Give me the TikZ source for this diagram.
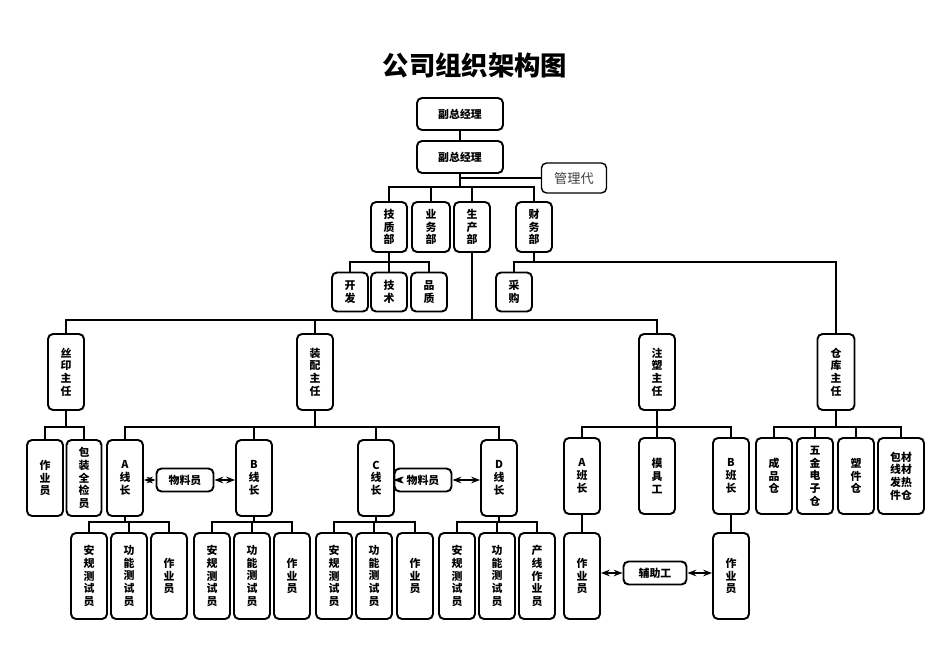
\documentclass[tikz,border=0pt]{standalone}
\usepackage{fontspec}
\newfontfamily\cjk{Noto Sans CJK SC}
\usetikzlibrary{arrows.meta, positioning, calc}

\tikzset{
  box/.style={draw, line width=1.1pt, rounded corners=0.1cm, align=center,
    inner sep=0pt, font=\cjk\bfseries\fontsize{6.2}{7.2}\selectfont},
  link/.style={line width=1.1pt},
  duo/.style={line width=1.1pt, {Stealth[length=5pt]}-{Stealth[length=5pt]}}
}
% box: name, centre x, centre y, width, height, text
\newcommand{\bx}[6]{\node[box, minimum width=#4*0.02cm, minimum height=#5*0.02cm] (#1) at (#2,#3) {#6};}
% branch: parent, bar height, list of children
\newcommand{\branch}[3]{%
  \draw[link] (#1.south) -- (#1.south |- 0,#2);
  \foreach \c in {#3} {\draw[link] (#1.south |- 0,#2) -| (\c.north);}
}

\begin{document}
\begin{tikzpicture}[x=0.02cm, y=-0.02cm]
  \useasboundingbox (0,0) rectangle (950,672);

  \node[font=\cjk\bfseries\fontsize{15}{17}\selectfont] (title) at (475,65) {公司组织架构图};

  % --- top ---
  \bx{vp}{460}{114}{86}{32}{副总经理}
  \bx{gm}{460}{157}{86}{32}{副总经理}
  \node[box, font=\cjk\fontsize{7.5}{9}\selectfont, text=black!75, line width=0.8pt,
    minimum width=1.3cm, minimum height=0.6cm] (agent) at (574,178) {管理代};
  \draw[link] (vp) -- (gm);
  \draw[link] (gm.south |- 0,178) -- (agent.west);

  % --- departments ---
  \bx{jz}{389}{227}{36}{50}{技\\质\\部}
  \bx{yw}{431}{227}{38}{50}{业\\务\\部}
  \bx{sc}{472}{227}{36}{50}{生\\产\\部}
  \bx{cw}{534}{227}{36}{50}{财\\务\\部}
  \branch{gm}{187}{jz,yw,sc,cw}

  \bx{kf}{350}{292}{36}{39}{开\\发}
  \bx{js}{389}{292}{36}{39}{技\\术}
  \bx{pz}{429}{292}{36}{39}{品\\质}
  \branch{jz}{262}{kf,js,pz}

  \bx{cg}{514}{292}{36}{39}{采\\购}
  \bx{ck}{836}{372}{37}{76}{仓\\库\\主\\任}
  \branch{cw}{262}{cg,ck}

  % --- production ---
  \bx{sy}{66}{372}{36}{76}{丝\\印\\主\\任}
  \bx{zp}{315}{372}{36}{76}{装\\配\\主\\任}
  \bx{zs}{657}{372}{36}{76}{注\\塑\\主\\任}
  \branch{sc}{320}{sy,zp,zs}

  \bx{syA}{45}{478}{36}{76}{作\\业\\员}
  \bx{syB}{84}{478}{35}{76}{包\\装\\全\\检\\员}
  \branch{sy}{427}{syA,syB}

  % assembly lines
  \bx{lA}{125}{478}{36}{76}{A\\线\\长}
  \bx{lB}{254}{478}{36}{76}{B\\线\\长}
  \bx{lC}{376}{478}{36}{76}{C\\线\\长}
  \bx{lD}{499}{478}{36}{76}{D\\线\\长}
  \branch{zp}{427}{lA,lB,lC,lD}

  \bx{wl1}{185}{480}{57}{23}{物料员}
  \bx{wl2}{423}{480}{57}{23}{物料员}
  \draw[duo] (lA.east |- wl1) -- (wl1.west);
  \draw[duo] (wl1.east) -- (lB.west |- wl1);
  \draw[duo] (lC.east |- wl2) -- (wl2.west);
  \draw[duo] (wl2.east) -- (lD.west |- wl2);

  \bx{a1}{89}{576}{36}{86}{安\\规\\测\\试\\员}
  \bx{a2}{129}{576}{36}{86}{功\\能\\测\\试\\员}
  \bx{a3}{169}{576}{36}{86}{作\\业\\员}
  \branch{lA}{522}{a1,a2,a3}
  \bx{b1}{212}{576}{36}{86}{安\\规\\测\\试\\员}
  \bx{b2}{252}{576}{36}{86}{功\\能\\测\\试\\员}
  \bx{b3}{292}{576}{36}{86}{作\\业\\员}
  \branch{lB}{522}{b1,b2,b3}
  \bx{c1}{334}{576}{36}{86}{安\\规\\测\\试\\员}
  \bx{c2}{374}{576}{36}{86}{功\\能\\测\\试\\员}
  \bx{c3}{415}{576}{36}{86}{作\\业\\员}
  \branch{lC}{522}{c1,c2,c3}
  \bx{d1}{457}{576}{36}{86}{安\\规\\测\\试\\员}
  \bx{d2}{497}{576}{36}{86}{功\\能\\测\\试\\员}
  \bx{d3}{537}{576}{36}{86}{产\\线\\作\\业\\员}
  \branch{lD}{522}{d1,d2,d3}

  % moulding
  \bx{bzA}{582}{476}{36}{76}{A\\班\\长}
  \bx{mj}{657}{476}{36}{76}{模\\具\\工}
  \bx{bzB}{731}{476}{36}{76}{B\\班\\长}
  \branch{zs}{427}{bzA,mj,bzB}
  \bx{zyA}{582}{576}{36}{86}{作\\业\\员}
  \bx{zyB}{731}{576}{36}{86}{作\\业\\员}
  \draw[link] (bzA) -- (zyA);
  \draw[link] (bzB) -- (zyB);
  \bx{fz}{655}{573}{63}{23}{辅助工}
  \draw[duo] (zyA.east |- fz) -- (fz.west);
  \draw[duo] (fz.east) -- (zyB.west |- fz);

  % warehouse
  \bx{w1}{774}{476}{36}{76}{成\\品\\仓}
  \bx{w2}{815}{476}{36}{76}{五\\金\\电\\子\\仓}
  \bx{w3}{856}{476}{36}{76}{塑\\件\\仓}
  \bx{w4}{901}{476}{46}{76}{包材\\线材\\发热\\件仓}
  \branch{ck}{427}{w1,w2,w3,w4}
\end{tikzpicture}
\end{document}
